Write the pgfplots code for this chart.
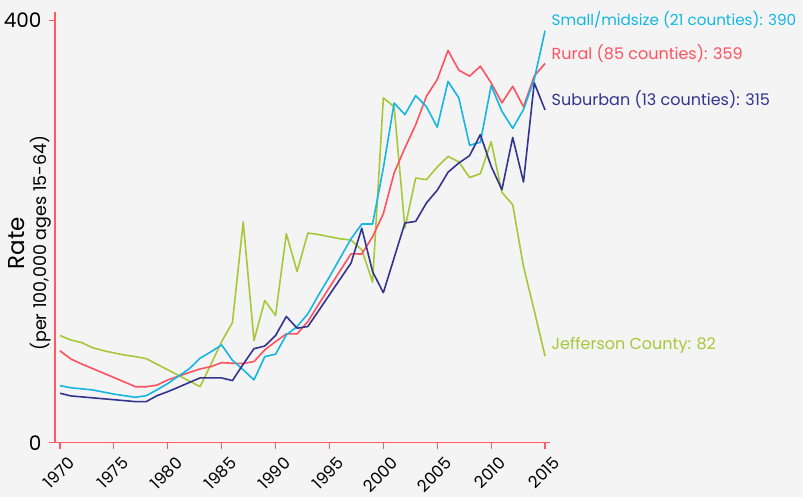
\documentclass[border=0pt]{standalone}
\usepackage{pgfplots}
\usepackage{pgfplotstable}
\pgfplotsset{compat=1.18}
\usepackage{fontspec}
\setmainfont{Poppins}
\definecolor{bg}{RGB}{244,244,244}
\definecolor{axred}{RGB}{255,90,100}
\definecolor{cyanc}{RGB}{20,182,228}
\definecolor{redc}{RGB}{255,82,96}
\definecolor{navyc}{RGB}{50,52,142}
\definecolor{greenc}{RGB}{166,200,56}

\pgfplotstableread{
year small rural suburban jefferson
1970 54 87 46.8 101.4
1971 52 79.3 44.3 97.3
1972 51 74.6 43.4 94.8
1973 50 70.3 42.5 90
1974 48 66 41.6 87.2
1975 46 61.7 40.7 85
1976 44.5 57.4 39.8 83
1977 43 53 38.9 81.5
1978 44.5 53 38.9 79.6
1979 50 54.5 44.5 74.3
1980 56 59.4 48.3 69
1981 63 63 52.6 63.7
1982 70 66.5 57 58.4
1983 80 69.8 61.3 53
1984 86 72 61.3 74
1985 92.6 75.8 61.3 95.7
1986 78 75.2 58.8 113.7
1987 69 75 74.3 209
1988 59.4 76.8 89 96.7
1989 81.5 87.9 91.5 134.6
1990 83.8 95.7 101.4 120.4
1991 102 103 119.5 197.8
1992 110 103 108.4 162
1993 122 114.7 110 198.5
1994 140 131 125 197
1995 157 147 140 195
1996 175 163 155 193
1997 193 178.8 170 191.8
1998 207 178.6 203 182.6
1999 207 195 162 152
2000 260 216.8 142 326.4
2001 321.5 255.3 175 318
2002 310.6 279 208 203.2
2003 328.6 301 209.5 250.6
2004 318 328 227 249
2005 298.6 343.8 239 261
2006 342 371.3 256 271
2007 326.4 352.6 264.8 265.8
2008 281.5 347 271.7 251
2009 284.4 356.4 291.7 254.7
2010 338 340.6 261.6 285
2011 313.7 321.7 239.5 237
2012 297.6 337.4 289 225.3
2013 315.4 318 246.8 166.8
2014 344 347 340.6 125
2015 390 359 315 82
}\datatable

\begin{document}
\begin{tikzpicture}[x=1pt,y=1pt]
\useasboundingbox (0,0) rectangle (803,497);
\fill[bg] (0,0) rectangle (803,497);
\begin{axis}[
  at={(55pt,54.3pt)}, anchor=south west,
  width=495pt, height=431pt, scale only axis,
  xmin=1969.54, xmax=2015.46, ymin=0, ymax=408,
  axis lines=left,
  axis line style={-, draw=axred, line width=1.2pt},
  tick align=outside, major tick length=6pt,
  tick style={draw=axred, line width=1.2pt},
  xtick={1970,1975,...,2015},
  ytick={0,400},
  /pgf/number format/.cd, 1000 sep={}, assume math mode=true,
  /pgfplots/.cd,
  xticklabel style={xshift=14pt, yshift=-9pt, rotate=45, anchor=east, font=\fontsize{16.5}{16.5}\selectfont},
  yticklabel style={font=\fontsize{20}{20}\selectfont, xshift=-4pt},
  ylabel={{\fontsize{23}{23}\selectfont Rate}\\[5pt]{\fontsize{17.5}{17.5}\selectfont (per 100,000 ages 15-64)}},
  ylabel style={align=center, at={(axis description cs:0,0.5)}, xshift=-16pt},
  clip=false,
  every axis plot/.append style={line width=1.6pt, line join=round},
]
\addplot[greenc, mark=none] table[x=year, y=jefferson] {\datatable};
\addplot[redc, mark=none] table[x=year, y=rural] {\datatable};
\addplot[cyanc, mark=none] table[x=year, y=small] {\datatable};
\addplot[navyc, mark=none] table[x=year, y=suburban] {\datatable};
\node[anchor=west, text=cyanc, font=\fontsize{15.2}{15.2}\selectfont, inner sep=0pt] at (axis cs:2015.6,400.7) {Small/midsize (21 counties): 390};
\node[anchor=west, text=redc, font=\fontsize{16}{16}\selectfont, inner sep=0pt] at (axis cs:2015.6,368.4) {Rural (85 counties): 359};
\node[anchor=west, text=navyc, font=\fontsize{16}{16}\selectfont, inner sep=0pt] at (axis cs:2015.6,324.8) {Suburban (13 counties): 315};
\node[anchor=west, text=greenc, font=\fontsize{16}{16}\selectfont, inner sep=0pt] at (axis cs:2015.6,92) {Jefferson County: 82};
\end{axis}
\end{tikzpicture}
\end{document}
